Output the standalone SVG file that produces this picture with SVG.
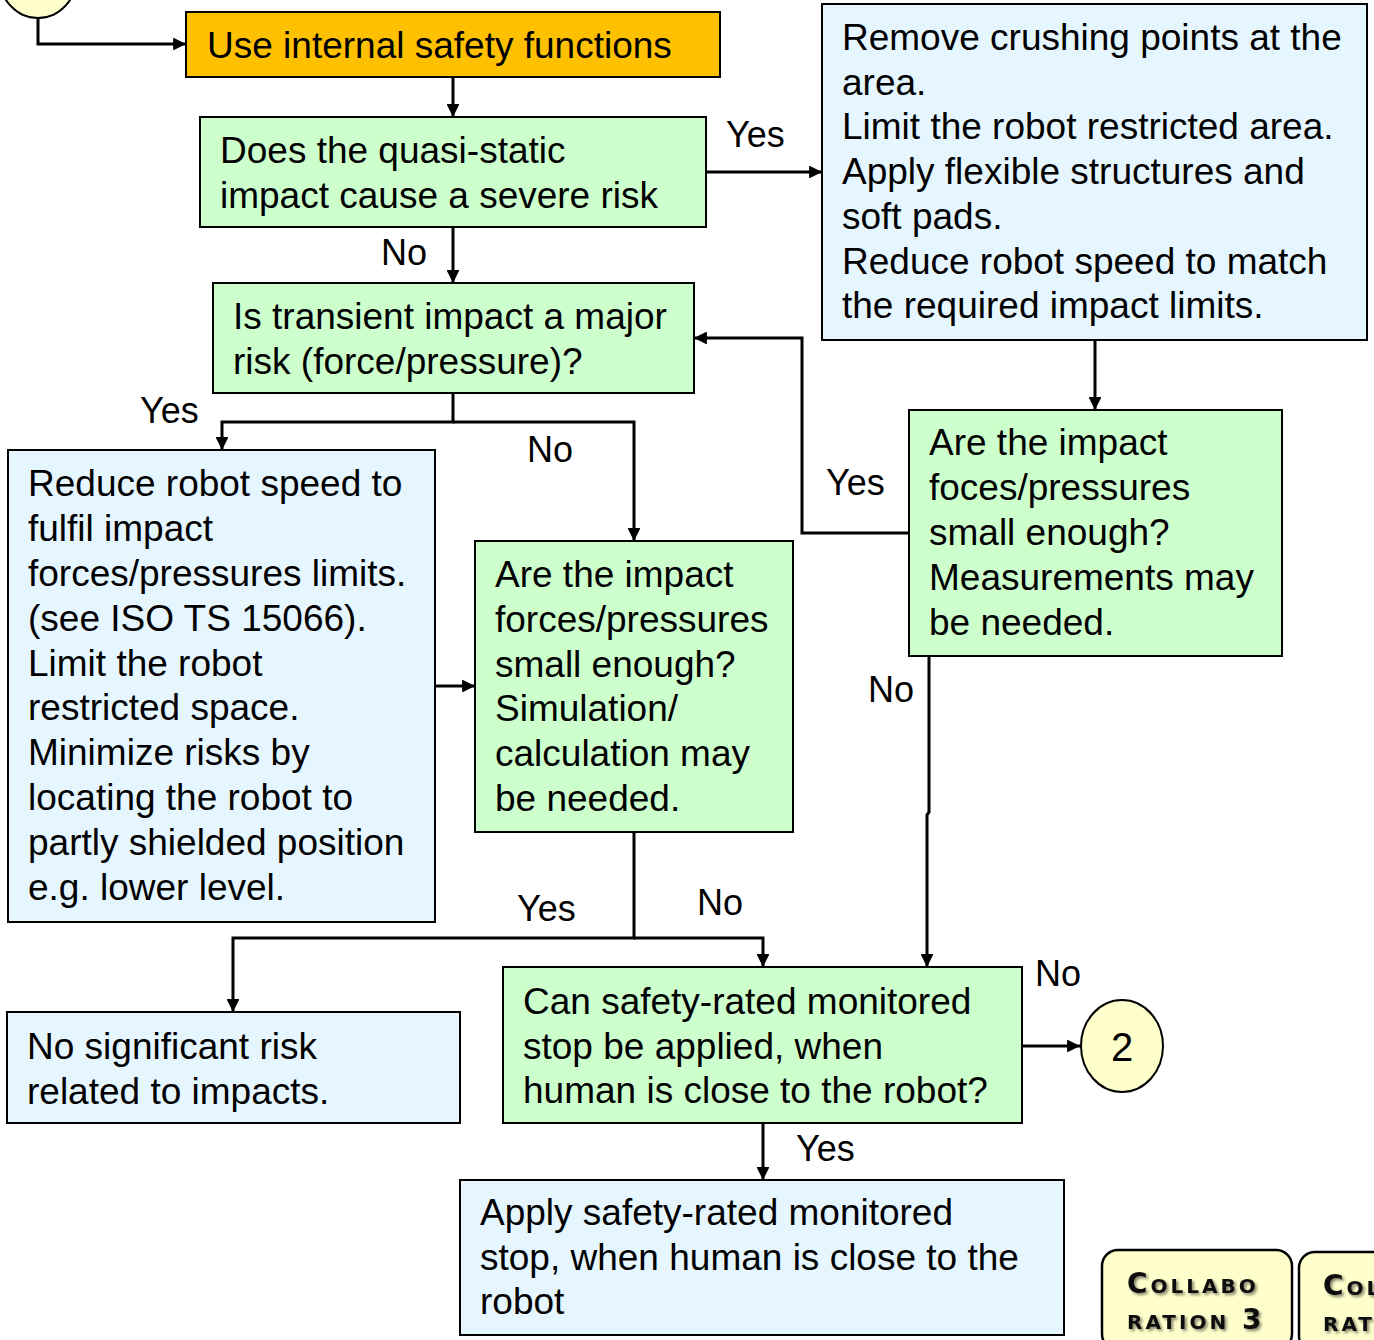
<svg xmlns="http://www.w3.org/2000/svg" width="1374" height="1340" viewBox="0 0 1374 1340">
<defs>
<style>
.t{font-family:"Liberation Sans",Arial,sans-serif;font-size:37px;fill:#000}
.l{font-family:"Liberation Sans",Arial,sans-serif;font-size:36px;fill:#000}
.g{fill:#CCFFCC;stroke:#000;stroke-width:2}
.b{fill:#E6F6FF;stroke:#000;stroke-width:2}
.o{fill:#FFC000;stroke:#000;stroke-width:2}
.c{fill:#FFFFCC;stroke:#000;stroke-width:2}
.cn{fill:none;stroke:#000;stroke-width:3}
.btn{fill:#FFFFCC;stroke:#000;stroke-width:2.5}
.bt{font-family:"DejaVu Sans",Verdana,sans-serif;font-weight:bold;font-size:28px;font-variant:small-caps;letter-spacing:3px;fill:#111}
</style>
<marker id="ar" viewBox="0 0 10 10" refX="10" refY="5" markerWidth="4.3" markerHeight="4.3" orient="auto" markerUnits="strokeWidth">
<path d="M0,0 L10,5 L0,10 z" fill="#000"/>
</marker>
<filter id="sh" x="-10%" y="-20%" width="120%" height="140%">
<feGaussianBlur in="SourceAlpha" stdDeviation="1.5"/>
<feOffset dx="2" dy="2" result="o"/>
<feComponentTransfer><feFuncA type="linear" slope="0.5"/></feComponentTransfer>
<feMerge><feMergeNode/><feMergeNode in="SourceGraphic"/></feMerge>
</filter>
</defs>
<rect width="1374" height="1340" fill="#fff"/>

<g id="connectors">
<path class="cn" d="M38,18 V44 H186" marker-end="url(#ar)"/>
<path class="cn" d="M453,77 V117" marker-end="url(#ar)"/>
<path class="cn" d="M706,172 H822" marker-end="url(#ar)"/>
<path class="cn" d="M453,227 V283" marker-end="url(#ar)"/>
<path class="cn" d="M453,393 V422 H222 V450" marker-end="url(#ar)"/>
<path class="cn" d="M453,422 H634 V541" marker-end="url(#ar)"/>
<path class="cn" d="M435,686 H475" marker-end="url(#ar)"/>
<path class="cn" d="M1095,340 V410" marker-end="url(#ar)"/>
<path class="cn" d="M909,533 H802 V338 H694" marker-end="url(#ar)"/>
<path class="cn" d="M929,656 V812 L927,815 V967" marker-end="url(#ar)"/>
<path class="cn" d="M634,832 V938 H233 V1012" marker-end="url(#ar)"/>
<path class="cn" d="M634,938 H763 V967" marker-end="url(#ar)"/>
<path class="cn" d="M1022,1046 H1080" marker-end="url(#ar)"/>
<path class="cn" d="M763,1123 V1180" marker-end="url(#ar)"/>
<text class="l" x="726" y="147">Yes</text>
<text class="l" x="381" y="265">No</text>
<text class="l" x="140" y="423">Yes</text>
<text class="l" x="527" y="462">No</text>
<text class="l" x="826" y="495">Yes</text>
<text class="l" x="868" y="702">No</text>
<text class="l" x="517" y="921">Yes</text>
<text class="l" x="697" y="915">No</text>
<text class="l" x="1035" y="986">No</text>
<text class="l" x="796" y="1161">Yes</text>
</g>

<g id="start">
<ellipse class="c" cx="38" cy="-27" rx="40" ry="45"/>
</g>

<g id="n-internal">
<rect class="o" x="186" y="12" width="534" height="65"/>
<text class="t" x="207" y="58">Use internal safety functions</text>
</g>

<g id="n-quasi">
<rect class="g" x="200" y="117" width="506" height="110"/>
<text class="t" x="220" y="163">Does the quasi-static</text>
<text class="t" x="220" y="208">impact cause a severe risk</text>
</g>

<g id="n-remove">
<rect class="b" x="822" y="4" width="545" height="336"/>
<text class="t" x="842" y="50">Remove crushing points at the</text>
<text class="t" x="842" y="95">area.</text>
<text class="t" x="842" y="139">Limit the robot restricted area.</text>
<text class="t" x="842" y="184">Apply flexible structures and</text>
<text class="t" x="842" y="229">soft pads.</text>
<text class="t" x="842" y="274">Reduce robot speed to match</text>
<text class="t" x="842" y="318">the required impact limits.</text>
</g>

<g id="n-transient">
<rect class="g" x="213" y="283" width="481" height="110"/>
<text class="t" x="233" y="329">Is transient impact a major</text>
<text class="t" x="233" y="374">risk (force/pressure)?</text>
</g>

<g id="n-reduce">
<rect class="b" x="8" y="450" width="427" height="472"/>
<text class="t" x="28" y="496">Reduce robot speed to</text>
<text class="t" x="28" y="541">fulfil impact</text>
<text class="t" x="28" y="586">forces/pressures limits.</text>
<text class="t" x="28" y="631">(see ISO TS 15066).</text>
<text class="t" x="28" y="676">Limit the robot</text>
<text class="t" x="28" y="720">restricted space.</text>
<text class="t" x="28" y="765">Minimize risks by</text>
<text class="t" x="28" y="810">locating the robot to</text>
<text class="t" x="28" y="855">partly shielded position</text>
<text class="t" x="28" y="900">e.g. lower level.</text>
</g>

<g id="n-sim">
<rect class="g" x="475" y="541" width="318" height="291"/>
<text class="t" x="495" y="587">Are the impact</text>
<text class="t" x="495" y="632">forces/pressures</text>
<text class="t" x="495" y="677">small enough?</text>
<text class="t" x="495" y="721">Simulation/</text>
<text class="t" x="495" y="766">calculation may</text>
<text class="t" x="495" y="811">be needed.</text>
</g>

<g id="n-meas">
<rect class="g" x="909" y="410" width="373" height="246"/>
<text class="t" x="929" y="455">Are the impact</text>
<text class="t" x="929" y="500">foces/pressures</text>
<text class="t" x="929" y="545">small enough?</text>
<text class="t" x="929" y="590">Measurements may</text>
<text class="t" x="929" y="635">be needed.</text>
</g>

<g id="n-norisk">
<rect class="b" x="7" y="1012" width="453" height="111"/>
<text class="t" x="27" y="1059">No significant risk</text>
<text class="t" x="27" y="1104">related to impacts.</text>
</g>

<g id="n-stop">
<rect class="g" x="503" y="967" width="519" height="156"/>
<text class="t" x="523" y="1014">Can safety-rated monitored</text>
<text class="t" x="523" y="1059">stop be applied, when</text>
<text class="t" x="523" y="1103">human is close to the robot?</text>
</g>

<g id="n-2">
<ellipse class="c" cx="1122" cy="1046" rx="41" ry="46"/>
<text x="1122" y="1061" text-anchor="middle" style="font-family:'Liberation Sans',Arial,sans-serif;font-size:40px">2</text>
</g>

<g id="n-apply">
<rect class="b" x="460" y="1180" width="604" height="155"/>
<text class="t" x="480" y="1225">Apply safety-rated monitored</text>
<text class="t" x="480" y="1270">stop, when human is close to the</text>
<text class="t" x="480" y="1314">robot</text>
</g>

<g id="btn-collab3">
<rect class="btn" x="1102" y="1250" width="190" height="100" rx="16"/>
<g filter="url(#sh)">
<text class="bt" x="1127" y="1293">Collabo</text>
<text class="bt" x="1127" y="1329">ration 3</text>
</g>
</g>

<g id="btn-collab4">
<rect class="btn" x="1299" y="1252" width="120" height="100" rx="16"/>
<g filter="url(#sh)">
<text class="bt" x="1323" y="1295">Collabo</text>
<text class="bt" x="1323" y="1331">ration 4</text>
</g>
</g>
</svg>
